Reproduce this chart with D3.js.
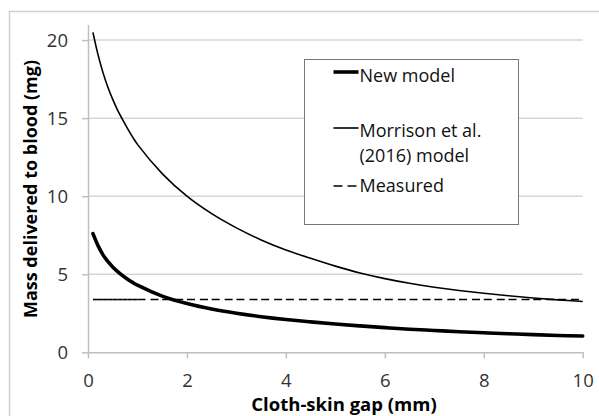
<!DOCTYPE html>
<html>
<head>
<meta charset="utf-8">
<script src="https://cdn.jsdelivr.net/npm/d3@7"></script>
<style>
  body { margin: 0; background: #fff; }
  svg { display: block; font-family: "Open Sans", sans-serif; }
</style>
</head>
<body>
<div id="chart"></div>
<script>
// cloth-skin gap (mm)
var gaps = [0.1, 0.2, 0.3, 0.4, 0.5, 0.6, 0.7, 0.8, 0.9, 1.0,
            1.5, 2.0, 2.5, 3.0, 3.5, 4.0, 4.5, 5.0, 5.5, 6.0,
            6.5, 7.0, 7.5, 8.0, 8.5, 9.0, 9.5, 10.0];
// mass delivered to blood (mg)
var newModel = [7.6, 6.85, 6.26, 5.82, 5.47, 5.17, 4.91, 4.68, 4.48, 4.3,
                3.6, 3.12, 2.77, 2.5, 2.28, 2.1, 1.95, 1.81, 1.69, 1.58,
                1.48, 1.4, 1.32, 1.25, 1.19, 1.13, 1.08, 1.04];
var morrison = [20.5, 19.1, 17.95, 17.0, 16.2, 15.5, 14.9, 14.33, 13.8, 13.32,
                11.45, 10.0, 8.88, 7.97, 7.2, 6.56, 6.02, 5.52, 5.08, 4.72,
                4.42, 4.17, 3.96, 3.78, 3.62, 3.48, 3.36, 3.25];
var measured = [3.38, 3.38, 3.38, 3.38, 3.38, 3.38, 3.38, 3.38, 3.38, 3.38,
                3.38, 3.38, 3.38, 3.38, 3.38, 3.38, 3.38, 3.38, 3.38, 3.38,
                3.38, 3.38, 3.38, 3.38, 3.38, 3.38, 3.38, 3.38];
var xTicks = [0, 2, 4, 6, 8, 10];
var yTicks = [0, 5, 10, 15, 20];
var legendLabels = [["New model"], ["Morrison et al.", "(2016) model"], ["Measured"]];

var W = 599, H = 416;
var margin = { top: 24.5, right: 16.3, bottom: 63.7, left: 88 };
var width = W - margin.left - margin.right,
    height = H - margin.top - margin.bottom;

var svg = d3.select("#chart").append("svg")
    .attr("width", W).attr("height", H);

// chart area border (cropped at right / bottom)
svg.append("path")
    .attr("d", "M9.5," + H + "V11.5H" + W)
    .attr("fill", "none")
    .attr("stroke", "#cfcfcf")
    .attr("stroke-width", 1.5);

var g = svg.append("g").attr("transform", "translate(" + margin.left + "," + margin.top + ")");

var x = d3.scaleLinear().domain([0, 10]).range([0, width]);
var y = d3.scaleLinear().domain([0, 21]).range([height, 0]);

// gridlines
g.append("g").selectAll("line")
    .data(yTicks.filter(function (d) { return d > 0; }))
    .enter().append("line")
    .attr("x1", 0).attr("x2", width)
    .attr("y1", function (d) { return y(d); })
    .attr("y2", function (d) { return y(d); })
    .attr("stroke", "#d6d6d6")
    .attr("stroke-width", 1.5);

var yAx = g.append("g")
    .call(d3.axisLeft(y).tickValues(yTicks).tickSize(6).tickSizeOuter(0).tickPadding(14));
var xAx = g.append("g")
    .attr("transform", "translate(0," + height + ")")
    .call(d3.axisBottom(x).tickValues(xTicks).tickSize(6).tickSizeOuter(0).tickPadding(16));

[yAx, xAx].forEach(function (a) {
    a.selectAll("path, line").attr("stroke", "#bfbfbf").attr("stroke-width", 1.5);
    a.selectAll("text").attr("font-size", 18.5).attr("fill", "#333")
        .attr("font-family", "'Open Sans', sans-serif");
});

var line = d3.line()
    .x(function (d) { return x(d[0]); })
    .y(function (d) { return y(d[1]); })
    .curve(d3.curveCatmullRom.alpha(0.5));

function pairs(vals) {
    return gaps.map(function (gp, i) { return [gp, vals[i]]; });
}

g.append("path").datum(pairs(morrison))
    .attr("d", line).attr("fill", "none")
    .attr("stroke", "#000").attr("stroke-width", 1.6);

// measured: dash pattern restarts at every point, like the spreadsheet does
var mp = pairs(measured);
g.append("g").selectAll("line")
    .data(mp.slice(1))
    .enter().append("line")
    .attr("x1", function (d, i) { return x(mp[i][0]); })
    .attr("y1", function (d, i) { return y(mp[i][1]); })
    .attr("x2", function (d) { return x(d[0]); })
    .attr("y2", function (d) { return y(d[1]); })
    .attr("stroke", "#000").attr("stroke-width", 1.6)
    .attr("stroke-dasharray", "8,5");

g.append("path").datum(pairs(newModel))
    .attr("d", line).attr("fill", "none")
    .attr("stroke", "#000").attr("stroke-width", 3.6)
    .attr("stroke-linecap", "round");

// axis titles
svg.append("text")
    .attr("x", 344).attr("y", 411)
    .attr("text-anchor", "middle")
    .attr("font-size", 18.5).attr("font-weight", "bold").attr("fill", "#000")
    .text("Cloth-skin gap (mm)");

svg.append("text")
    .attr("transform", "translate(37,189) rotate(-90)")
    .attr("text-anchor", "middle")
    .attr("font-size", 18).attr("font-weight", "bold").attr("fill", "#000")
    .text("Mass delivered to blood (mg)");

// legend
var legend = svg.append("g").attr("transform", "translate(304.5,59.5)");
legend.append("rect")
    .attr("width", 214).attr("height", 165)
    .attr("fill", "#fff").attr("stroke", "#777").attr("stroke-width", 1);

var legendStyle = [
    { w: 3.6, dash: null, ly: 12.5, ty: [22.5] },
    { w: 1.6, dash: null, ly: 68.5, ty: [77.5, 102] },
    { w: 1.6, dash: "9,5", ly: 126.5, ty: [132.5] }
];
legendStyle.forEach(function (s, i) {
    legend.append("line")
        .attr("x1", 29).attr("x2", 54)
        .attr("y1", s.ly).attr("y2", s.ly)
        .attr("stroke", "#000").attr("stroke-width", s.w)
        .attr("stroke-dasharray", s.dash);
    legendLabels[i].forEach(function (t, j) {
        legend.append("text")
            .attr("x", 55).attr("y", s.ty[j])
            .attr("font-size", 18).attr("fill", "#111")
            .text(t);
    });
});
</script>
</body>
</html>
